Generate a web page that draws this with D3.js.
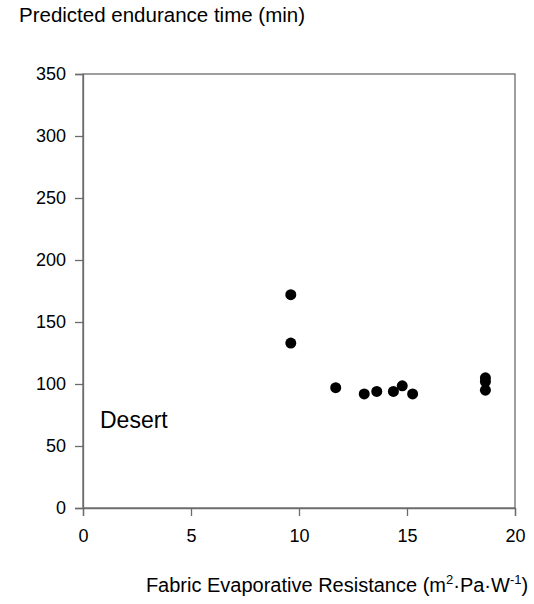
<!DOCTYPE html>
<html>
<head>
<meta charset="utf-8">
<script src="https://cdn.jsdelivr.net/npm/d3@7"></script>
<style>
  body { margin: 0; background: #fff; }
  svg { display: block; font-family: "Liberation Sans", Arial, sans-serif; }
</style>
</head>
<body>
<svg id="chart" width="534" height="604"></svg>
<script>
// Fabric evaporative resistance (m²·Pa·W⁻¹) and predicted endurance time (min)
const resistance = [9.62, 9.62, 11.7, 13.02, 13.6, 14.37, 14.78, 15.26, 18.63, 18.63, 18.63];
const endurance  = [172, 133, 97, 92, 94, 94, 98.5, 92, 105, 102, 95];
const xTicks = [0, 5, 10, 15, 20];
const yTicks = [0, 50, 100, 150, 200, 250, 300, 350];

const svg = d3.select("#chart");
const plot = { left: 83, right: 515, top: 74, bottom: 508 };

const x = d3.scaleLinear().domain([0, 20]).range([plot.left, plot.right]);
const y = d3.scaleLinear().domain([0, 350]).range([plot.bottom, plot.top]);

const axisColor = "#6b6b6b";

// frame
svg.append("rect")
  .attr("x", plot.left).attr("y", plot.top)
  .attr("width", plot.right - plot.left).attr("height", plot.bottom - plot.top)
  .attr("fill", "none").attr("stroke", axisColor).attr("stroke-width", 1.3);

const xAxis = svg.append("g")
  .attr("transform", `translate(0,${plot.bottom})`)
  .call(d3.axisBottom(x).tickValues(xTicks).tickSize(8).tickPadding(13));
const yAxis = svg.append("g")
  .attr("transform", `translate(${plot.left},0)`)
  .call(d3.axisLeft(y).tickValues(yTicks).tickSize(8).tickPadding(9));

[xAxis, yAxis].forEach(g => {
  g.select(".domain").attr("stroke", axisColor).attr("stroke-width", 1.3);
  g.selectAll(".tick line").attr("stroke", axisColor).attr("stroke-width", 1.3);
  g.selectAll(".tick text").attr("fill", "#000").style("font-size", "18px")
    .style("font-family", "'Liberation Sans', Arial, sans-serif");
});

// data points
svg.append("g").selectAll("circle")
  .data(resistance.map((r, i) => ({ r, t: endurance[i] })))
  .join("circle")
  .attr("cx", d => x(d.r))
  .attr("cy", d => y(d.t))
  .attr("r", 5.5)
  .attr("fill", "#000");

// titles
svg.append("text")
  .attr("x", 19).attr("y", 22)
  .style("font-size", "20.5px")
  .text("Predicted endurance time (min)");

svg.append("text")
  .attr("x", 100).attr("y", 428)
  .style("font-size", "23px")
  .text("Desert");

const xt = svg.append("text")
  .attr("x", 337).attr("y", 592)
  .attr("text-anchor", "middle")
  .style("font-size", "20px");
xt.append("tspan").text("Fabric Evaporative Resistance (m");
xt.append("tspan").attr("dy", -8).style("font-size", "13px").text("2");
xt.append("tspan").attr("dy", 8).text("·Pa·W");
xt.append("tspan").attr("dy", -8).style("font-size", "13px").text("-1");
xt.append("tspan").attr("dy", 8).text(")");
</script>
</body>
</html>
